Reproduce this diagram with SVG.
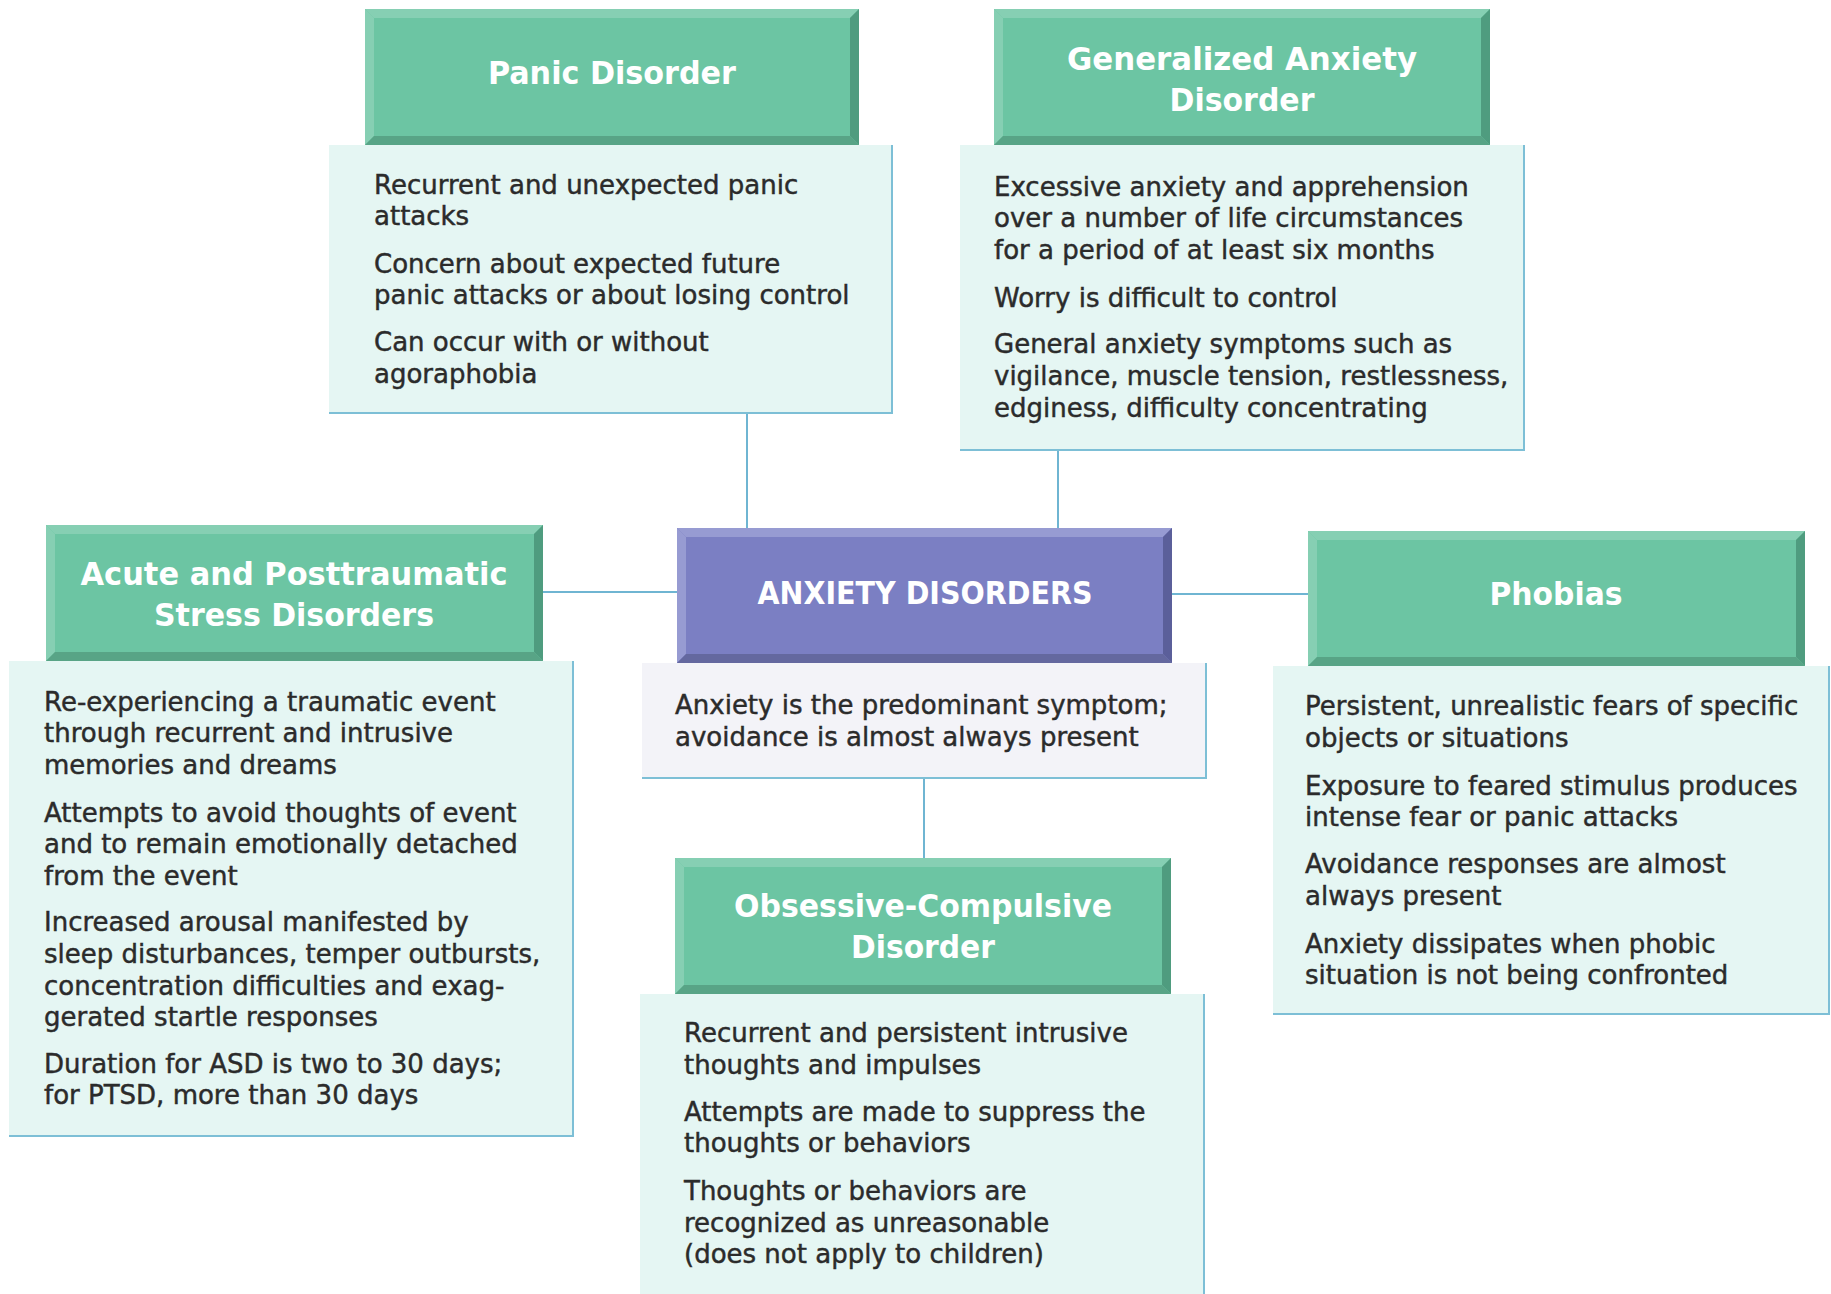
<svg xmlns="http://www.w3.org/2000/svg" width="1831" height="1294" viewBox="0 0 1831 1294">
<style>
.body{fill:#e5f6f3}
.cbody{fill:#f3f3f8}
.edge{fill:none;stroke:#7dbfd6;stroke-width:2}
.face{fill:#6cc5a3}
.lt{fill:#86cfb3}
.dk{fill:#4f9c7f}
.dk2{fill:#58a486}
.pface{fill:#7b7fc3}
.plt{fill:#979bd2}
.pdk{fill:#5b5f9a}
.pdk2{fill:#64689f}
.conn{fill:none;stroke:#6fb5d2;stroke-width:2}
.t{font-family:"DejaVu Sans","Verdana",sans-serif;font-size:26px;fill:#2b2b2b;stroke:#2b2b2b;stroke-width:0.45}
.h{font-family:"DejaVu Sans Condensed","Liberation Sans Narrow","DejaVu Sans",sans-serif;font-weight:bold;font-size:32px;fill:#ffffff;text-anchor:middle}
</style>
<rect width="1831" height="1294" fill="#ffffff"/>
<g id="connectors">
<line class="conn" x1="747" y1="413" x2="747" y2="528"/>
<line class="conn" x1="1058" y1="450" x2="1058" y2="528"/>
<line class="conn" x1="543" y1="592" x2="677" y2="592"/>
<line class="conn" x1="1172" y1="594" x2="1308" y2="594"/>
<line class="conn" x1="924" y1="778" x2="924" y2="858"/>
</g>
<g id="panic">
<rect class="body" x="329" y="145" width="563" height="268"/>
<polyline class="edge" points="892,145 892,413 329,413"/>
<rect class="face" x="365" y="9" width="494" height="136"/>
<polygon class="lt" points="365,9 859,9 850,18 374,18"/>
<polygon class="lt" points="365,9 374,18 374,136 365,145"/>
<polygon class="dk" points="859,9 859,145 850,136 850,18"/>
<polygon class="dk2" points="365,145 374,136 850,136 859,145"/>
<text class="h" x="612" y="84" textLength="248" lengthAdjust="spacingAndGlyphs">Panic Disorder</text>
<text class="t"><tspan x="374" y="194">Recurrent and unexpected panic</tspan><tspan x="374" y="225">attacks</tspan><tspan x="374" y="273">Concern about expected future</tspan><tspan x="374" y="304">panic attacks or about losing control</tspan><tspan x="374" y="351">Can occur with or without</tspan><tspan x="374" y="383">agoraphobia</tspan></text>
</g>
<g id="gad">
<rect class="body" x="960" y="145" width="564" height="305"/>
<polyline class="edge" points="1524,145 1524,450 960,450"/>
<rect class="face" x="994" y="9" width="496" height="136"/>
<polygon class="lt" points="994,9 1490,9 1481,18 1003,18"/>
<polygon class="lt" points="994,9 1003,18 1003,136 994,145"/>
<polygon class="dk" points="1490,9 1490,145 1481,136 1481,18"/>
<polygon class="dk2" points="994,145 1003,136 1481,136 1490,145"/>
<text class="h" x="1242" y="70" textLength="350" lengthAdjust="spacingAndGlyphs">Generalized Anxiety</text>
<text class="h" x="1242" y="111" textLength="145" lengthAdjust="spacingAndGlyphs">Disorder</text>
<text class="t"><tspan x="994" y="196">Excessive anxiety and apprehension</tspan><tspan x="994" y="227">over a number of life circumstances</tspan><tspan x="994" y="259">for a period of at least six months</tspan><tspan x="994" y="307">Worry is difficult to control</tspan><tspan x="994" y="353">General anxiety symptoms such as</tspan><tspan x="994" y="385">vigilance, muscle tension, restlessness,</tspan><tspan x="994" y="417">edginess, difficulty concentrating</tspan></text>
</g>
<g id="center">
<rect class="cbody" x="642" y="663" width="564" height="115"/>
<polyline class="edge" points="1206,663 1206,778 642,778"/>
<rect class="pface" x="677" y="528" width="495" height="135"/>
<polygon class="plt" points="677,528 1172,528 1163,537 686,537"/>
<polygon class="plt" points="677,528 686,537 686,654 677,663"/>
<polygon class="pdk" points="1172,528 1172,663 1163,654 1163,537"/>
<polygon class="pdk2" points="677,663 686,654 1163,654 1172,663"/>
<text class="h" x="925" y="604" textLength="335" lengthAdjust="spacingAndGlyphs">ANXIETY DISORDERS</text>
<text class="t"><tspan x="675" y="714">Anxiety is the predominant symptom;</tspan><tspan x="675" y="746">avoidance is almost always present</tspan></text>
</g>
<g id="asd">
<rect class="body" x="9" y="661" width="564" height="475"/>
<polyline class="edge" points="573,661 573,1136 9,1136"/>
<rect class="face" x="46" y="525" width="497" height="136"/>
<polygon class="lt" points="46,525 543,525 534,534 55,534"/>
<polygon class="lt" points="46,525 55,534 55,652 46,661"/>
<polygon class="dk" points="543,525 543,661 534,652 534,534"/>
<polygon class="dk2" points="46,661 55,652 534,652 543,661"/>
<text class="h" x="294" y="585" textLength="427" lengthAdjust="spacingAndGlyphs">Acute and Posttraumatic</text>
<text class="h" x="294" y="626" textLength="280" lengthAdjust="spacingAndGlyphs">Stress Disorders</text>
<text class="t"><tspan x="44" y="711">Re-experiencing a traumatic event</tspan><tspan x="44" y="742">through recurrent and intrusive</tspan><tspan x="44" y="774">memories and dreams</tspan><tspan x="44" y="822">Attempts to avoid thoughts of event</tspan><tspan x="44" y="853">and to remain emotionally detached</tspan><tspan x="44" y="885">from the event</tspan><tspan x="44" y="931">Increased arousal manifested by</tspan><tspan x="44" y="963">sleep disturbances, temper outbursts,</tspan><tspan x="44" y="995">concentration difficulties and exag-</tspan><tspan x="44" y="1026">gerated startle responses</tspan><tspan x="44" y="1073">Duration for ASD is two to 30 days;</tspan><tspan x="44" y="1104">for PTSD, more than 30 days</tspan></text>
</g>
<g id="phobias">
<rect class="body" x="1273" y="666" width="556" height="348"/>
<polyline class="edge" points="1829,666 1829,1014 1273,1014"/>
<rect class="face" x="1308" y="531" width="497" height="135"/>
<polygon class="lt" points="1308,531 1805,531 1796,540 1317,540"/>
<polygon class="lt" points="1308,531 1317,540 1317,657 1308,666"/>
<polygon class="dk" points="1805,531 1805,666 1796,657 1796,540"/>
<polygon class="dk2" points="1308,666 1317,657 1796,657 1805,666"/>
<text class="h" x="1556" y="605" textLength="133" lengthAdjust="spacingAndGlyphs">Phobias</text>
<text class="t"><tspan x="1305" y="715">Persistent, unrealistic fears of specific</tspan><tspan x="1305" y="747">objects or situations</tspan><tspan x="1305" y="795">Exposure to feared stimulus produces</tspan><tspan x="1305" y="826">intense fear or panic attacks</tspan><tspan x="1305" y="873">Avoidance responses are almost</tspan><tspan x="1305" y="905">always present</tspan><tspan x="1305" y="953">Anxiety dissipates when phobic</tspan><tspan x="1305" y="984">situation is not being confronted</tspan></text>
</g>
<g id="ocd">
<rect class="body" x="640" y="994" width="564" height="300"/>
<polyline class="edge" points="1204,994 1204,1294"/>
<rect class="face" x="675" y="858" width="496" height="136"/>
<polygon class="lt" points="675,858 1171,858 1162,867 684,867"/>
<polygon class="lt" points="675,858 684,867 684,985 675,994"/>
<polygon class="dk" points="1171,858 1171,994 1162,985 1162,867"/>
<polygon class="dk2" points="675,994 684,985 1162,985 1171,994"/>
<text class="h" x="923" y="917" textLength="378" lengthAdjust="spacingAndGlyphs">Obsessive-Compulsive</text>
<text class="h" x="923" y="958" textLength="144" lengthAdjust="spacingAndGlyphs">Disorder</text>
<text class="t"><tspan x="684" y="1042">Recurrent and persistent intrusive</tspan><tspan x="684" y="1074">thoughts and impulses</tspan><tspan x="684" y="1121">Attempts are made to suppress the</tspan><tspan x="684" y="1152">thoughts or behaviors</tspan><tspan x="684" y="1200">Thoughts or behaviors are</tspan><tspan x="684" y="1232">recognized as unreasonable</tspan><tspan x="684" y="1263">(does not apply to children)</tspan></text>
</g>
</svg>
